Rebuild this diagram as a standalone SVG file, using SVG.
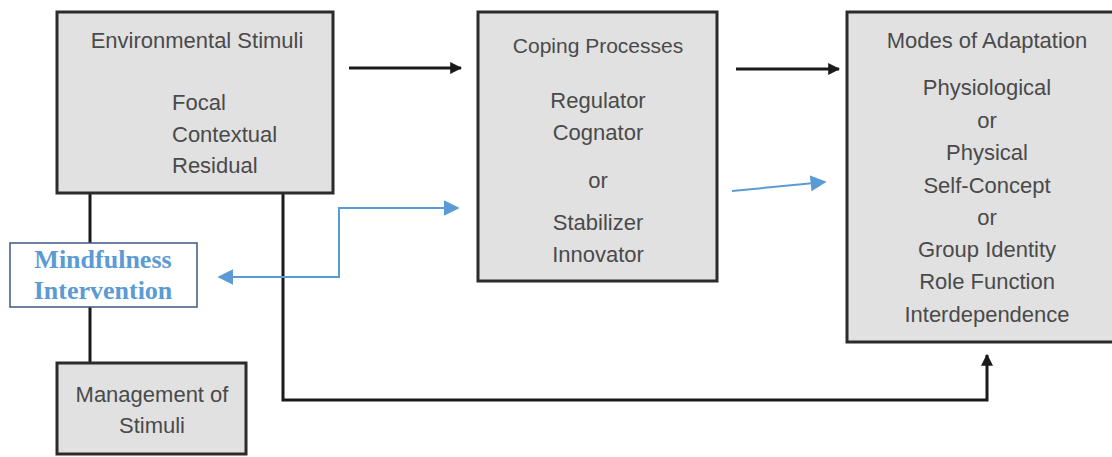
<svg xmlns="http://www.w3.org/2000/svg" width="1112" height="457" viewBox="0 0 1112 457">
  <style>
    .box { fill: #e1e1e1; stroke: #2b2b2b; stroke-width: 3; }
    .lbl { font-family: "Liberation Sans", Arial, sans-serif; font-size: 22px; fill: #4a4a4a; text-anchor: middle; }
    .lbl-l { font-family: "Liberation Sans", Arial, sans-serif; font-size: 22px; fill: #4a4a4a; }
    .blk { fill: none; stroke: #1a1a1a; stroke-width: 3; }
    .blu { fill: none; stroke: #5b9bd5; stroke-width: 2; }
    .mind { font-family: "Liberation Serif", "Times New Roman", serif; font-size: 26px; font-weight: bold; fill: #5b9bd5; text-anchor: middle; }
  </style>
  <defs>
    <marker id="ahBlack" viewBox="0 0 10 10" refX="9" refY="5" markerWidth="4" markerHeight="4" markerUnits="strokeWidth" orient="auto-start-reverse">
      <path d="M0,0 L10,5 L0,10 Z" fill="#1a1a1a"/>
    </marker>
    <marker id="ahBlue" viewBox="0 0 10 10" refX="9" refY="5" markerWidth="8" markerHeight="8" markerUnits="strokeWidth" orient="auto-start-reverse">
      <path d="M0,0 L10,5 L0,10 Z" fill="#5b9bd5"/>
    </marker>
  </defs>

  <rect width="1112" height="457" fill="#ffffff"/>

  <!-- connectors -->
  <g id="connectors">
    <path class="blk" d="M90,363 V97 H155" marker-end="url(#ahBlack)"/>
    <path class="blk" d="M90,134 H155" marker-end="url(#ahBlack)"/>
    <path class="blk" d="M349,68 H461" marker-end="url(#ahBlack)"/>
    <path class="blk" d="M736,69 H839" marker-end="url(#ahBlack)"/>
    <path class="blk" d="M283,193 V400 H987 V355" marker-end="url(#ahBlack)"/>
    <path class="blu" d="M219,277 H339 V208 H458" marker-start="url(#ahBlue)" marker-end="url(#ahBlue)"/>
    <path class="blu" d="M732,191 L825,182" marker-end="url(#ahBlue)"/>
  </g>

  <!-- Environmental Stimuli -->
  <g id="environmental-stimuli">
    <rect class="box" x="57" y="12" width="276" height="181"/>
    <text class="lbl" x="197" y="48">Environmental Stimuli</text>
    <text class="lbl-l" x="172" y="110">Focal</text>
    <text class="lbl-l" x="172" y="142">Contextual</text>
    <text class="lbl-l" x="172" y="173">Residual</text>
  </g>

  <!-- Coping Processes -->
  <g id="coping-processes">
    <rect class="box" x="478" y="12" width="239" height="269"/>
    <text class="lbl" x="598" y="53" style="font-size:21px">Coping Processes</text>
    <text class="lbl" x="598" y="108">Regulator</text>
    <text class="lbl" x="598" y="140">Cognator</text>
    <text class="lbl" x="598" y="188">or</text>
    <text class="lbl" x="598" y="230">Stabilizer</text>
    <text class="lbl" x="598" y="262">Innovator</text>
  </g>

  <!-- Modes of Adaptation -->
  <g id="modes-of-adaptation">
    <rect class="box" x="847" y="12" width="275" height="330"/>
    <text class="lbl" x="987" y="48">Modes of Adaptation</text>
    <text class="lbl" x="987" y="95">Physiological</text>
    <text class="lbl" x="987" y="128">or</text>
    <text class="lbl" x="987" y="160">Physical</text>
    <text class="lbl" x="987" y="193">Self-Concept</text>
    <text class="lbl" x="987" y="225">or</text>
    <text class="lbl" x="987" y="257">Group Identity</text>
    <text class="lbl" x="987" y="289">Role Function</text>
    <text class="lbl" x="987" y="322">Interdependence</text>
  </g>

  <!-- Management of Stimuli -->
  <g id="management-of-stimuli">
    <rect class="box" x="57" y="363" width="189" height="91"/>
    <text class="lbl" x="152" y="402">Management of</text>
    <text class="lbl" x="152" y="433">Stimuli</text>
  </g>

  <!-- Mindfulness Intervention -->
  <g id="mindfulness-intervention">
    <rect x="10" y="243" width="187" height="64" fill="#ffffff" stroke="#3d5a80" stroke-width="1.5"/>
    <text class="mind" x="103" y="268">Mindfulness</text>
    <text class="mind" x="103" y="299">Intervention</text>
  </g>
</svg>
